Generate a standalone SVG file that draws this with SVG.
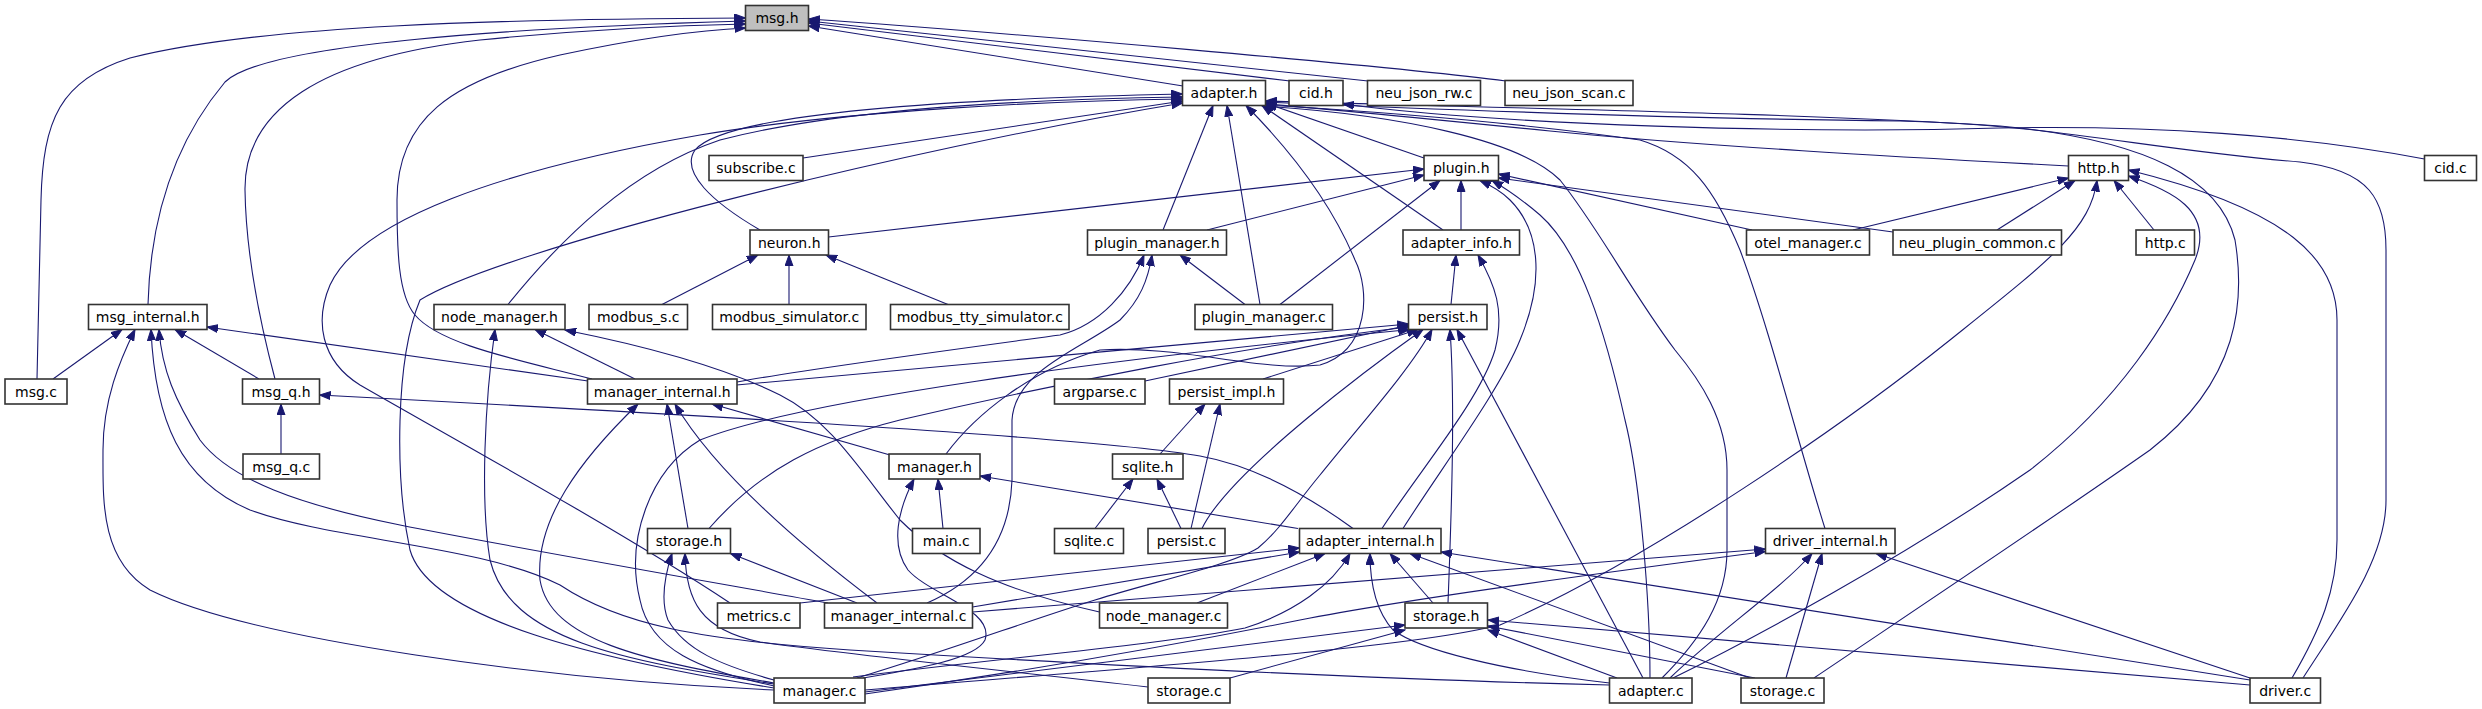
<svg xmlns="http://www.w3.org/2000/svg" width="2482" height="709" viewBox="0 0 2482 709">
<defs>
<marker id="ah" markerWidth="12" markerHeight="9" refX="11" refY="4.5" orient="auto" markerUnits="userSpaceOnUse"><path d="M0,0.5 L11,4.5 L0,8.5 Z" fill="#191970" stroke="#191970" stroke-width="1"/></marker>
</defs>
<style>
.n rect{fill:#ffffff;stroke:#333333;stroke-width:1.6}
.n.g rect{fill:#bfbfbf}
.n text{font-family:"DejaVu Sans",Verdana,sans-serif;font-size:14px;text-anchor:middle;fill:#000000}
#edges path{fill:none;stroke:#191970;stroke-width:1.1;marker-end:url(#ah)}
</style>
<rect width="2482" height="709" fill="#ffffff"/>
<g id="edges">
<path d="M37,379 L41,200 C43,120 60,80 130,58 C260,25 500,19 745.5,18"/>
<path d="M148,304.5 C150,230 168,150 225,82 C262,45 500,28 745.5,21"/>
<path d="M275,379 C262,330 246,260 245,190 C244,110 320,58 480,40 C600,28 700,25 745.5,24"/>
<path d="M592,379 C520,360 440,345 415,315 C398,295 397,250 397,200 C397,120 450,80 560,55 C640,38 700,30 745.5,28"/>
<path d="M1183,86 L808.5,26"/>
<path d="M1290,81 L808.5,23"/>
<path d="M1368,81 L808.5,21"/>
<path d="M1506,81 C1400,67 1000,32 808.5,19"/>
<path d="M803,158 L1182.5,101"/>
<path d="M760,230 C712,202 680,172 695,150 C722,118 900,100 1182.5,94"/>
<path d="M508,304.5 C560,240 630,170 720,140 C850,106 1050,99 1182.5,97"/>
<path d="M730,603 C620,530 420,420 360,385 C320,360 315,320 330,285 C360,220 500,170 700,135 C850,110 1050,101 1182.5,99"/>
<path d="M774,688 C600,660 430,620 410,550 C395,480 395,360 420,300 C500,250 900,150 1182.5,103"/>
<path d="M1163,230 L1213,105.5"/>
<path d="M1260,304.5 L1227,105.5"/>
<path d="M946,454 C975,415 1030,370 1100,350 C1180,345 1260,372 1320,365 C1370,350 1370,290 1355,260 C1330,200 1290,150 1246,105.5"/>
<path d="M1443,230 L1262,105.5"/>
<path d="M1424,158 L1265.5,103"/>
<path d="M2068.5,166 C1900,157 1700,146 1550,131 C1400,116 1320,108 1265.5,104"/>
<path d="M1814,678 C1900,620 2050,520 2150,450 C2240,380 2245,300 2235,240 C2220,180 2150,140 2000,126 C1800,113 1500,108 1265.5,101"/>
<path d="M2303,678 C2340,620 2386,560 2386,500 L2386,250 C2386,200 2370,170 2300,162 C2150,150 2050,124 1900,121 C1700,119 1450,110 1265.5,102"/>
<path d="M1825,528.5 C1800,450 1770,330 1740,250 C1715,190 1690,155 1640,140 C1500,120 1350,110 1265.5,105"/>
<path d="M1662,678 C1700,640 1727,600 1727,550 L1727,470 C1727,420 1700,380 1675,350 C1630,290 1600,230 1560,180 C1520,140 1400,115 1262,106"/>
<path d="M2424.5,159 C2300,135 2150,125 2000,128 C1800,134 1500,125 1343,104"/>
<path d="M828.5,237 L1424,169"/>
<path d="M1207,230 L1424,175"/>
<path d="M1280,304.5 L1440,180.5"/>
<path d="M1461,230 L1461,180.5"/>
<path d="M1403,528.5 C1440,470 1500,390 1520,340 C1545,280 1540,230 1510,200 C1500,190 1490,185 1480,180.5"/>
<path d="M1650,678 C1650,600 1640,480 1625,420 C1605,330 1580,250 1540,215 C1520,198 1505,188 1492,180.5"/>
<path d="M1752,230 L1498.5,174"/>
<path d="M1893,232 L1498.5,178"/>
<path d="M1451,304.5 L1456,255"/>
<path d="M1382,528.5 C1420,470 1480,400 1495,350 C1505,310 1495,285 1478,255"/>
<path d="M662,304.5 L758,255"/>
<path d="M789,304.5 L789,255"/>
<path d="M948,304.5 L826,255"/>
<path d="M1853,230 L2068.5,178"/>
<path d="M1997,230 L2075,180.5"/>
<path d="M2154,230 L2114,180.5"/>
<path d="M1673,678 C1750,640 1900,560 2030,470 C2120,400 2170,320 2195,260 C2215,210 2170,190 2128.5,176"/>
<path d="M2292,678 C2320,630 2337,590 2337,540 L2337,320 C2337,260 2290,210 2128.5,170"/>
<path d="M865,690 C1100,670 1400,650 1500,625 C1650,560 1850,420 1950,340 C2050,260 2090,230 2097,180.5"/>
<path d="M1245,304.5 L1180,255"/>
<path d="M737,382 C800,370 950,350 1060,335 C1100,325 1130,290 1144,255"/>
<path d="M927,603 C980,580 1010,540 1012,480 L1012,420 C1015,370 1080,350 1120,320 C1140,300 1148,280 1152,255"/>
<path d="M774,684 C620,660 510,640 490,560 C480,500 485,400 495,329.5"/>
<path d="M635,379 L535,329.5"/>
<path d="M1099.5,612 C1000,590 940,560 900,520 C860,470 830,420 780,395 C720,365 640,345 565,330"/>
<path d="M774,683 C640,660 550,640 540,580 C535,520 580,460 638,404"/>
<path d="M688,528.5 L667,404"/>
<path d="M877,603 C820,560 720,480 675,404"/>
<path d="M890,455 L712,404"/>
<path d="M53,379 L122,329.5"/>
<path d="M774,690 C550,680 250,640 150,590 C100,560 103,500 103,450 C103,400 120,360 135,329.5"/>
<path d="M1609.5,685 C1400,680 1100,665 850,650 C700,640 620,625 560,585 C480,545 330,540 250,510 C180,480 155,420 151,329.5"/>
<path d="M1148,687 C1000,670 850,655 760,642 C700,630 686,600 685,553.5"/>
<path d="M774,680 C720,665 685,650 668,620 C660,600 665,575 672,553.5"/>
<path d="M857,603 L730.5,553.5"/>
<path d="M828,603 C700,580 500,545 400,525 C300,505 230,480 200,440 C175,400 162,370 159,329.5"/>
<path d="M259,379 L175,329.5"/>
<path d="M588,381 L207,327"/>
<path d="M281,454 L281,404"/>
<path d="M1353,528.5 C1300,490 1250,465 1200,456 C1100,438 700,415 319.5,395"/>
<path d="M943,528.5 L938,479"/>
<path d="M863,678 C910,670 975,660 985,640 C995,610 930,595 908,570 C890,545 898,510 914,479"/>
<path d="M1298,528.5 L980,476"/>
<path d="M1095,528.5 L1133,479"/>
<path d="M1181,528.5 L1157,479"/>
<path d="M1160,454 L1205,404"/>
<path d="M1191,528.5 L1220,404"/>
<path d="M1145,381 L1410,325"/>
<path d="M1263,379 L1418,329.5"/>
<path d="M1202,528.5 C1230,470 1380,360 1423,329.5"/>
<path d="M1448,603 C1452,500 1455,400 1450,329.5"/>
<path d="M1643,678 L1457,329.5"/>
<path d="M736.5,385 L1408.5,324"/>
<path d="M709,528.5 C760,470 820,440 900,420 C1050,385 1250,345 1408.5,327"/>
<path d="M774,686 C700,670 650,650 640,600 C625,540 650,470 700,440 C800,400 1100,360 1410,329.5"/>
<path d="M857,678 C950,650 1030,620 1095,600 C1160,580 1230,565 1258,548 C1280,530 1295,505 1320,475 C1360,425 1410,370 1432,329.5"/>
<path d="M800,603 L1299.5,548"/>
<path d="M972.5,607 L1299.5,552"/>
<path d="M1197,603 L1325,553.5"/>
<path d="M853,677 C1000,658 1160,645 1245,628 C1295,612 1332,585 1350,553.5"/>
<path d="M1433,603 L1390,553.5"/>
<path d="M1609.5,683 C1500,670 1420,650 1393,630 C1375,610 1370,580 1370,553.5"/>
<path d="M1750,678 L1410,553.5"/>
<path d="M2250,680 L1441,552"/>
<path d="M1617,678 L1488,630"/>
<path d="M1755,678 L1488,626"/>
<path d="M2250,685 L1488,620"/>
<path d="M865,692 C1000,675 1200,650 1405,625"/>
<path d="M1230,678 L1405,630"/>
<path d="M1670,678 C1720,630 1780,590 1812,553.5"/>
<path d="M1786,678 L1822,553.5"/>
<path d="M2250,678 L1876,553.5"/>
<path d="M972.5,612 L1765.5,549"/>
<path d="M865,694 C1050,668 1200,640 1300,620 C1400,600 1600,573 1765.5,551.5"/>
</g>
<g id="msg_h" class="n g"><rect x="745.5" y="5.5" width="63" height="25"/><text x="777" y="23">msg.h</text></g>
<g id="adapter_h" class="n"><rect x="1182.5" y="80.5" width="83" height="25"/><text x="1224" y="98">adapter.h</text></g>
<g id="cid_h" class="n"><rect x="1289" y="80.5" width="54" height="25"/><text x="1316" y="98">cid.h</text></g>
<g id="neu_json_rw_c" class="n"><rect x="1367.5" y="80.5" width="113" height="25"/><text x="1424" y="98">neu_json_rw.c</text></g>
<g id="neu_json_scan_c" class="n"><rect x="1505" y="80.5" width="128" height="25"/><text x="1569" y="98">neu_json_scan.c</text></g>
<g id="subscribe_c" class="n"><rect x="709" y="155.5" width="94" height="25"/><text x="756" y="173">subscribe.c</text></g>
<g id="plugin_h" class="n"><rect x="1424" y="155.5" width="74.5" height="25"/><text x="1461.25" y="173">plugin.h</text></g>
<g id="http_h" class="n"><rect x="2068.5" y="155.5" width="60" height="25"/><text x="2098.5" y="173">http.h</text></g>
<g id="cid_c" class="n"><rect x="2424.5" y="155.5" width="52" height="25"/><text x="2450.5" y="173">cid.c</text></g>
<g id="neuron_h" class="n"><rect x="750" y="230" width="78.5" height="25"/><text x="789.25" y="247.5">neuron.h</text></g>
<g id="plugin_manager_h" class="n"><rect x="1087.5" y="230" width="139" height="25"/><text x="1157" y="247.5">plugin_manager.h</text></g>
<g id="adapter_info_h" class="n"><rect x="1403" y="230" width="116.5" height="25"/><text x="1461.25" y="247.5">adapter_info.h</text></g>
<g id="otel_manager_c" class="n"><rect x="1746.5" y="230" width="123" height="25"/><text x="1808" y="247.5">otel_manager.c</text></g>
<g id="neu_plugin_common_c" class="n"><rect x="1893" y="230" width="168.5" height="25"/><text x="1977.25" y="247.5">neu_plugin_common.c</text></g>
<g id="http_c" class="n"><rect x="2136" y="230" width="58.5" height="25"/><text x="2165.25" y="247.5">http.c</text></g>
<g id="msg_internal_h" class="n"><rect x="88.5" y="304.5" width="118.5" height="25"/><text x="147.75" y="322">msg_internal.h</text></g>
<g id="node_manager_h" class="n"><rect x="434" y="304.5" width="131" height="25"/><text x="499.5" y="322">node_manager.h</text></g>
<g id="modbus_s_c" class="n"><rect x="589" y="304.5" width="98.5" height="25"/><text x="638.25" y="322">modbus_s.c</text></g>
<g id="modbus_simulator_c" class="n"><rect x="712.5" y="304.5" width="153.5" height="25"/><text x="789.25" y="322">modbus_simulator.c</text></g>
<g id="modbus_tty_simulator_c" class="n"><rect x="890.5" y="304.5" width="178.5" height="25"/><text x="979.75" y="322">modbus_tty_simulator.c</text></g>
<g id="plugin_manager_c" class="n"><rect x="1195" y="304.5" width="137.5" height="25"/><text x="1263.75" y="322">plugin_manager.c</text></g>
<g id="persist_h" class="n"><rect x="1408.5" y="304.5" width="78.5" height="25"/><text x="1447.75" y="322">persist.h</text></g>
<g id="msg_c" class="n"><rect x="5" y="379" width="62" height="25"/><text x="36" y="396.5">msg.c</text></g>
<g id="msg_q_h" class="n"><rect x="242.5" y="379" width="77" height="25"/><text x="281" y="396.5">msg_q.h</text></g>
<g id="manager_internal_h" class="n"><rect x="587.5" y="379" width="149.5" height="25"/><text x="662.25" y="396.5">manager_internal.h</text></g>
<g id="argparse_c" class="n"><rect x="1054.5" y="379" width="90.5" height="25"/><text x="1099.75" y="396.5">argparse.c</text></g>
<g id="persist_impl_h" class="n"><rect x="1169.5" y="379" width="114" height="25"/><text x="1226.5" y="396.5">persist_impl.h</text></g>
<g id="msg_q_c" class="n"><rect x="243" y="454" width="76.5" height="25"/><text x="281.25" y="471.5">msg_q.c</text></g>
<g id="manager_h" class="n"><rect x="889" y="454" width="91" height="25"/><text x="934.5" y="471.5">manager.h</text></g>
<g id="sqlite_h" class="n"><rect x="1112.5" y="454" width="70.5" height="25"/><text x="1147.75" y="471.5">sqlite.h</text></g>
<g id="storage_h_1" class="n"><rect x="647.5" y="528.5" width="83" height="25"/><text x="689" y="546">storage.h</text></g>
<g id="main_c" class="n"><rect x="912.5" y="528.5" width="67.5" height="25"/><text x="946.25" y="546">main.c</text></g>
<g id="sqlite_c" class="n"><rect x="1054.5" y="528.5" width="69" height="25"/><text x="1089" y="546">sqlite.c</text></g>
<g id="persist_c" class="n"><rect x="1148" y="528.5" width="77" height="25"/><text x="1186.5" y="546">persist.c</text></g>
<g id="adapter_internal_h" class="n"><rect x="1299.5" y="528.5" width="141.5" height="25"/><text x="1370.25" y="546">adapter_internal.h</text></g>
<g id="driver_internal_h" class="n"><rect x="1765.5" y="528.5" width="129.5" height="25"/><text x="1830.25" y="546">driver_internal.h</text></g>
<g id="metrics_c" class="n"><rect x="717.5" y="603" width="82.5" height="25"/><text x="758.75" y="620.5">metrics.c</text></g>
<g id="manager_internal_c" class="n"><rect x="824.5" y="603" width="148" height="25"/><text x="898.5" y="620.5">manager_internal.c</text></g>
<g id="node_manager_c" class="n"><rect x="1099.5" y="603" width="128" height="25"/><text x="1163.5" y="620.5">node_manager.c</text></g>
<g id="storage_h_2" class="n"><rect x="1405" y="603" width="82.5" height="25"/><text x="1446.25" y="620.5">storage.h</text></g>
<g id="manager_c" class="n"><rect x="774" y="678" width="91" height="25"/><text x="819.5" y="695.5">manager.c</text></g>
<g id="storage_c_1" class="n"><rect x="1148" y="678" width="82" height="25"/><text x="1189" y="695.5">storage.c</text></g>
<g id="adapter_c" class="n"><rect x="1609.5" y="678" width="82.5" height="25"/><text x="1650.75" y="695.5">adapter.c</text></g>
<g id="storage_c_2" class="n"><rect x="1741" y="678" width="83" height="25"/><text x="1782.5" y="695.5">storage.c</text></g>
<g id="driver_c" class="n"><rect x="2250" y="678" width="70.5" height="25"/><text x="2285.25" y="695.5">driver.c</text></g>
</svg>
